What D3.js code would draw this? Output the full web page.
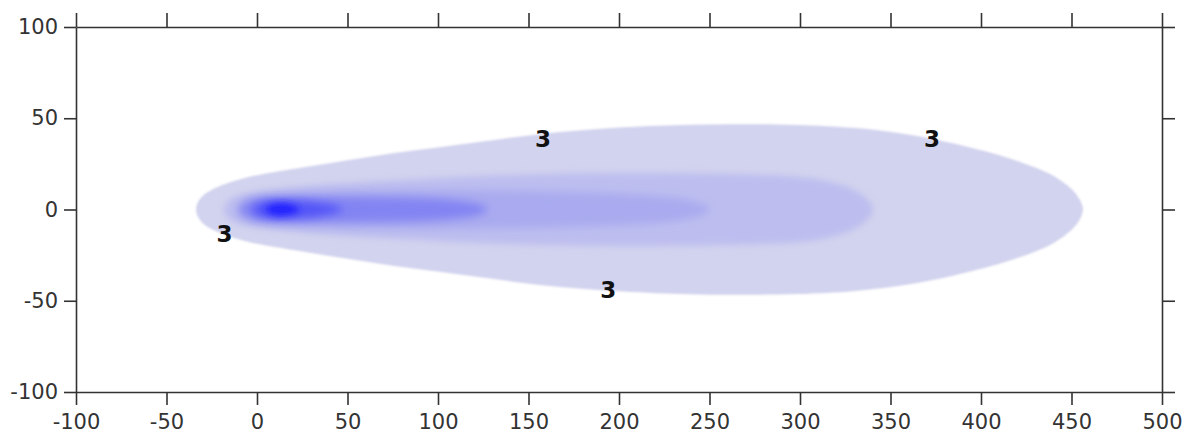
<!DOCTYPE html>
<html>
<head>
<meta charset="utf-8">
<script src="https://cdn.jsdelivr.net/npm/d3@7"></script>
<style>
  body { margin: 0; background: #fff; }
  svg { display: block; }
  .axis path, .axis line { stroke: #333; stroke-width: 1.6; }
  .axis text { font-family: "DejaVu Sans", sans-serif; font-size: 21px; fill: #333; }
  .lbl { font-family: "DejaVu Sans", sans-serif; font-size: 23px; font-weight: bold; fill: #111; }
</style>
</head>
<body>
<script>
// axis ticks
var xTicks = [-100, -50, 0, 50, 100, 150, 200, 250, 300, 350, 400, 450, 500];
var yTicks = [-100, -50, 0, 50, 100];

// plume contours: [downwind x, half width]
var level1 = [[-34,0],[-33,4],[-30,8],[-25,11],[-18,14],[-8,17],[0,19],[25,23],[50,27],[75,31],[100,34],[130,38],[160,42],[185,44],[220,46],[260,47],[300,46.5],[330,45],[355,42],[375,38.5],[394,34],[410,30],[425,25],[438,20],[447,14],[452,9.5],[455,5],[457,0]];
var level2 = [[-19,0],[-17,5],[-10,8],[0,10],[25,13],[75,16],[130,19],[180,20],[240,20],[290,19],[310,17],[326,13],[335,8],[339,4],[341,0]];
var level3 = [[-13,0],[-9,5],[0,8],[40,10],[100,11],[160,10],[200,9],[230,7],[245,4],[253,0]];
var level4 = [[-11,0],[-7,4],[0,6],[30,7],[70,7],[100,6],[120,4],[131,0]];
var level5 = [[-4,0],[0,4],[10,5.5],[25,5],[40,3],[51,0]];
var level6 = [[3,0],[8,3],[14,3.5],[20,2.5],[25,0]];

// contour labels
var labelX = [158, 373, -18, 194];
var labelY = [39, 39, -13, -44];
var labelText = ["3", "3", "3", "3"];

var width = 1186, height = 434;
var svg = d3.select("body").append("svg").attr("width", width).attr("height", height);

var x = d3.scaleLinear().domain([-100, 500]).range([76, 1162]);
var y = d3.scaleLinear().domain([-100, 100]).range([392, 27]);

var levels = [level1, level2, level3, level4, level5, level6];
var colors = ["#d2d3ee", "#bdbeef", "#a9aaef", "#8384f3", "#5354f8", "#2222ff"];
var blurs = [1.2, 3, 4, 4, 4, 3];

var defs = svg.append("defs");
blurs.forEach(function(b, i){
  defs.append("filter").attr("id", "blur" + i)
    .attr("x", "-20%").attr("y", "-50%").attr("width", "140%").attr("height", "200%")
    .append("feGaussianBlur").attr("stdDeviation", b);
});

var line = d3.line()
  .x(function(d){ return x(d[0]); })
  .y(function(d){ return y(d[1]); })
  .curve(d3.curveBasisClosed);

function outline(profile){
  var top = profile.map(function(p){ return [p[0], p[1]]; });
  var bottom = profile.slice(1, profile.length - 1).reverse().map(function(p){ return [p[0], -p[1]]; });
  return top.concat(bottom);
}

svg.append("g").selectAll("path")
  .data(levels)
  .enter().append("path")
  .attr("d", function(d){ return line(outline(d)); })
  .attr("fill", function(d, i){ return colors[i]; })
  .attr("filter", function(d, i){ return "url(#blur" + i + ")"; });

// plain hyphen minus like the original
var fmt = function(d){ return String(d); };

// axes on all four sides, ticks pointing outwards
svg.append("g").attr("class", "axis")
  .attr("transform", "translate(0," + y(-100) + ")")
  .call(d3.axisBottom(x).tickValues(xTicks).tickSize(13).tickSizeOuter(0).tickPadding(9).tickFormat(fmt));
svg.append("g").attr("class", "axis")
  .attr("transform", "translate(0," + y(100) + ")")
  .call(d3.axisTop(x).tickValues(xTicks).tickSize(14).tickSizeOuter(0).tickFormat(""));
svg.append("g").attr("class", "axis")
  .attr("transform", "translate(" + x(-100) + ",0)")
  .call(d3.axisLeft(y).tickValues(yTicks).tickSize(12).tickSizeOuter(0).tickPadding(6).tickFormat(fmt));
svg.append("g").attr("class", "axis")
  .attr("transform", "translate(" + x(500) + ",0)")
  .call(d3.axisRight(y).tickValues(yTicks).tickSize(13).tickSizeOuter(0).tickFormat(""));

svg.append("g").selectAll("text")
  .data(labelText)
  .enter().append("text")
  .attr("class", "lbl")
  .attr("x", function(d, i){ return x(labelX[i]); })
  .attr("y", function(d, i){ return y(labelY[i]); })
  .attr("text-anchor", "middle")
  .attr("dy", "0.36em")
  .text(function(d){ return d; });
</script>
</body>
</html>
